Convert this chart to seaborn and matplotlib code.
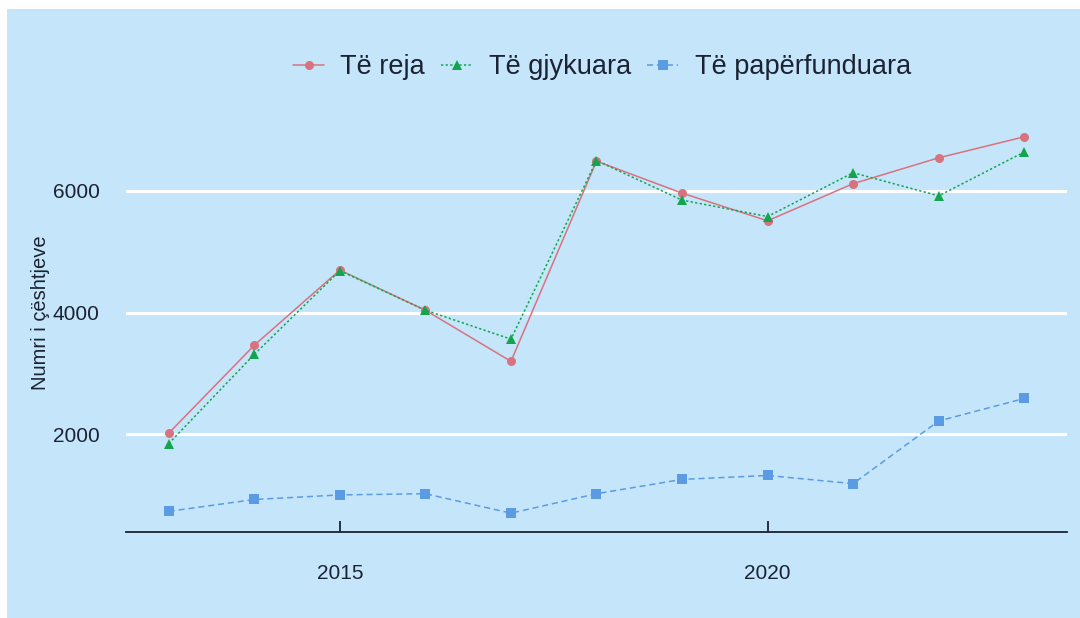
import pandas as pd
import matplotlib.pyplot as plt
import seaborn as sns
from matplotlib.patches import Rectangle

# Data
years = list(range(2013, 2024))
te_reja = [2020, 3465, 4700, 4040, 3200, 6490, 5965, 5510, 6120, 6545, 6890]
te_gjykuara = [1850, 3315, 4690, 4040, 3565, 6500, 5850, 5580, 6300, 5920, 6640]
te_paperfunduara = [735, 930, 1005, 1025, 705, 1025, 1260, 1325, 1190, 2220, 2590]
series_names = ["Të reja", "Të gjykuara", "Të papërfunduara"]

df = pd.DataFrame({
    "year": years * 3,
    "value": te_reja + te_gjykuara + te_paperfunduara,
    "series": [series_names[0]] * len(years)
    + [series_names[1]] * len(years)
    + [series_names[2]] * len(years),
})

bg = "#C5E6FA"
text_col = "#1B2233"
palette = {"Të reja": "#D8727F", "Të gjykuara": "#12A54E", "Të papërfunduara": "#5B9BE3"}
markers = {"Të reja": "o", "Të gjykuara": "^", "Të papërfunduara": "s"}
dashes = {"Të reja": "", "Të gjykuara": (1.5, 1.5), "Të papërfunduara": (4, 2.5)}

sns.set_style("white")
plt.rcParams["font.family"] = ["Liberation Sans", "DejaVu Sans"]

fig = plt.figure(figsize=(10.8, 6.18), dpi=100, facecolor="white")
# light blue panel, leaving a thin white strip on the left and top
fig.patches.append(Rectangle((7 / 1080, 0), 1, 1 - 9 / 618, transform=fig.transFigure,
                             facecolor=bg, edgecolor="none", zorder=-5))

ax = fig.add_axes([126 / 1080, 1 - 532 / 618, (1067 - 126) / 1080, (532 - 118) / 618])
ax.set_facecolor(bg)
ax.set_zorder(1)

sns.lineplot(
    data=df, x="year", y="value", hue="series", style="series",
    palette=palette, markers=markers, dashes=dashes,
    markersize=6.5, markeredgewidth=0, linewidth=1.1,
    ax=ax, legend="full",
)

ax.margins(x=0.05, y=0.05)
ax.set_xticks([2015, 2020])
ax.set_yticks([2000, 4000, 6000])
ax.yaxis.grid(True, color="white", linewidth=2.2)
ax.xaxis.grid(False)
ax.set_axisbelow(True)

for side in ["top", "right", "left"]:
    ax.spines[side].set_visible(False)
ax.spines["bottom"].set_color("#1B2233")
ax.spines["bottom"].set_linewidth(1.3)

ax.tick_params(axis="x", bottom=True, direction="in", length=8, width=1.3, color="#1B2233",
               labelsize=15, labelcolor=text_col, pad=23)
ax.tick_params(axis="y", left=False, length=0, labelsize=15, labelcolor=text_col, pad=19)

ax.set_xlabel("")
ax.set_ylabel("Numri i çështjeve", fontsize=14.5, color=text_col)
ax.yaxis.set_label_coords(-0.081, 0.53)

handles, labels = ax.get_legend_handles_labels()
ax.legend_.remove()
fig.legend(handles, labels, loc="center", bbox_to_anchor=(602 / 1080, 1 - 67 / 618),
           ncol=3, frameon=False, fontsize=19.5, handlelength=1.15, handletextpad=0.6,
           columnspacing=0.6, labelcolor=text_col)

plt.savefig("out.png", dpi=100, facecolor=fig.get_facecolor())
